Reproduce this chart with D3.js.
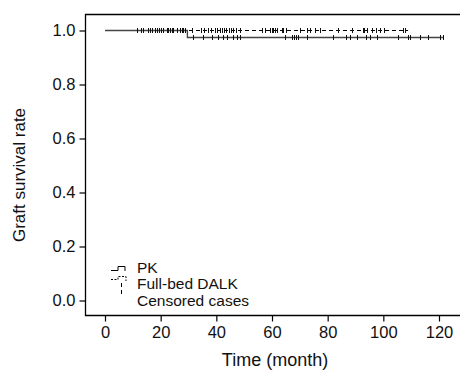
<!DOCTYPE html>
<html><head><meta charset="utf-8">
<script src="https://cdn.jsdelivr.net/npm/d3@7"></script>
<style>body{margin:0;background:#fff}svg{display:block;font-family:Arial,"Liberation Sans",sans-serif}</style>
</head><body><svg id="c" width="460" height="372"></svg>
<script>
// Kaplan-Meier step data
const pkTimes = [0, 29.6, 121.4];
const pkSurv = [1.0, 0.974, 0.974];
const dalkTimes = [0, 108.9];
const dalkSurv = [1.0, 1.0];
// censored times
const pkCensor = [31.7, 35.3, 38.3, 40.5, 42.5, 43.7, 46.1, 47.3, 48.5, 64.7, 67.1, 67.9, 68.6, 69.5, 72.5, 81.8, 86.6, 88.0, 90.7, 93.8, 95.2, 97.8, 105.2, 109.0, 109.6, 113.0, 116.2, 120.4, 121.3];
const dalkCensor = [11.6, 12.8, 13.8, 15.3, 16.2, 16.8, 18.0, 18.8, 19.4, 20.1, 21.0, 22.2, 22.8, 23.4, 24.0, 24.6, 25.8, 27.0, 27.5, 28.1, 28.8, 31.2, 34.4, 35.6, 37.1, 38.1, 39.5, 40.4, 41.2, 42.0, 42.8, 43.6, 44.4, 45.2, 46.0, 47.2, 48.4, 56.3, 57.5, 59.3, 59.9, 60.5, 61.1, 61.7, 63.5, 64.1, 64.9, 70.0, 72.5, 73.7, 75.5, 77.3, 83.6, 88.6, 92.6, 93.2, 94.0, 95.8, 97.4, 98.8, 100.2, 107.2, 107.8];
const xTicks = [0, 20, 40, 60, 80, 100, 120];
const yTicks = [0.0, 0.2, 0.4, 0.6, 0.8, 1.0];
const legendLabels = ["PK", "Full-bed DALK", "Censored cases"];

const svg = d3.select("#c");
const x = d3.scaleLinear().domain([0, 120]).range([105, 439]);
const y = d3.scaleLinear().domain([0, 1]).range([300.5, 30.5]);
const frame = {l: 85.5, t: 14.5, b: 315.5, r: 460};

// frame
svg.append("path").attr("d", `M${frame.r},${frame.t}H${frame.l}V${frame.b}H${frame.r}`)
  .attr("fill", "none").attr("stroke", "#000").attr("stroke-width", 1.3);

// axes
const yAxis = d3.axisLeft(y).tickValues(yTicks).tickFormat(d3.format(".1f")).tickSize(6).tickPadding(4);
const gy = svg.append("g").attr("transform", `translate(${frame.l},0)`).call(yAxis);
const xAxis = d3.axisBottom(x).tickValues(xTicks).tickFormat(d3.format("d")).tickSize(6).tickPadding(5);
const gx = svg.append("g").attr("transform", `translate(0,${frame.b})`).call(xAxis);
[gy, gx].forEach(g => {
  g.select(".domain").remove();
  g.selectAll("line").attr("stroke", "#000").attr("stroke-width", 1.2);
  g.selectAll("text").attr("font-size", 16.5).attr("fill", "#111").attr("font-family", "Arial, Liberation Sans, sans-serif");
});

svg.append("text").attr("transform", "translate(25,175) rotate(-90)").attr("text-anchor", "middle")
  .attr("font-size", 17).attr("fill", "#111").text("Graft survival rate");
svg.append("text").attr("x", 275).attr("y", 366).attr("text-anchor", "middle")
  .attr("font-size", 18).attr("fill", "#111").text("Time (month)");

const step = d3.line().curve(d3.curveStepAfter).x(d => x(d[0])).y(d => y(d[1]));
const pkData = pkTimes.map((t, i) => [t, pkSurv[i]]);
const dalkData = dalkTimes.map((t, i) => [t, dalkSurv[i]]);

svg.append("path").attr("d", step(dalkData)).attr("fill", "none").attr("stroke", "#000")
  .attr("stroke-width", 1).attr("stroke-dasharray", "4,3");
svg.append("path").attr("d", step(pkData)).attr("fill", "none").attr("stroke", "#444")
  .attr("stroke-width", 1.3);

function survAt(times, surv, t) {
  let s = surv[0];
  for (let i = 0; i < times.length; i++) if (times[i] <= t) s = surv[i];
  return s;
}
svg.append("g").selectAll("line").data(dalkCensor).join("line")
  .attr("x1", d => Math.round(x(d)) + 0.5).attr("x2", d => Math.round(x(d)) + 0.5)
  .attr("y1", d => y(survAt(dalkTimes, dalkSurv, d)) - 2.5).attr("y2", d => y(survAt(dalkTimes, dalkSurv, d)) + 2.5)
  .attr("stroke", "#111").attr("stroke-width", 1);
svg.append("g").selectAll("line").data(pkCensor).join("line")
  .attr("x1", d => Math.round(x(d)) + 0.5).attr("x2", d => Math.round(x(d)) + 0.5)
  .attr("y1", d => y(survAt(pkTimes, pkSurv, d)) - 2.5).attr("y2", d => y(survAt(pkTimes, pkSurv, d)) + 2.5)
  .attr("stroke", "#111").attr("stroke-width", 1);

// legend
const lg = svg.append("g").attr("transform", "translate(111,262)");
lg.append("path").attr("d", "M0,8.5H7V4.5H14V9").attr("fill", "none").attr("stroke", "#000").attr("stroke-width", 1);
lg.append("path").attr("d", "M0,17.5H7V14.5H15V19").attr("fill", "none").attr("stroke", "#000").attr("stroke-width", 1).attr("stroke-dasharray", "2,1.5");
lg.append("path").attr("d", "M10.5,21V35").attr("fill", "none").attr("stroke", "#000").attr("stroke-width", 1).attr("stroke-dasharray", "4,3");
lg.selectAll("text").data(legendLabels).join("text")
  .attr("x", 26).attr("y", (d, i) => 10.5 + i * 16.5)
  .attr("font-size", 15.5).attr("fill", "#111").text(d => d);
</script></body></html>
